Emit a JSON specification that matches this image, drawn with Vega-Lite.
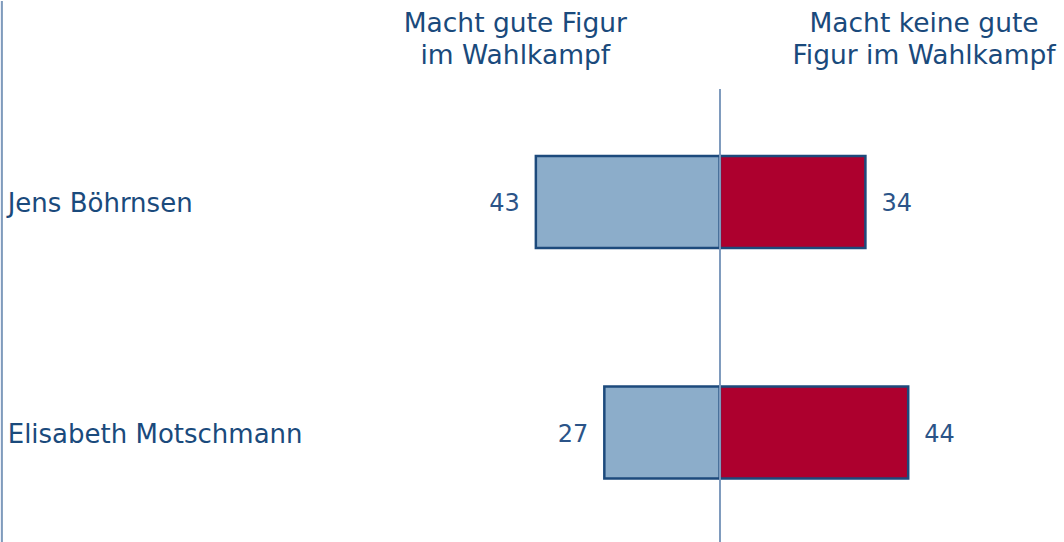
{
  "$schema": "https://vega.github.io/schema/vega-lite/v6.json",
  "width": 1064,
  "height": 542,
  "autosize": {"type": "fit", "contains": "padding"},
  "padding": 0,
  "background": "white",
  "config": {"view": {"stroke": null}, "font": "DejaVu Sans"},
  "data": {
    "values": [
      {"name": "Jens Böhrnsen", "group": "gut", "value": -43, "label": "43"},
      {"name": "Jens Böhrnsen", "group": "schlecht", "value": 34, "label": "34"},
      {"name": "Elisabeth Motschmann", "group": "gut", "value": -27, "label": "27"},
      {"name": "Elisabeth Motschmann", "group": "schlecht", "value": 44, "label": "44"}
    ]
  },
  "layer": [
    {
      "mark": {"type": "bar", "stroke": "#1d4a7c", "strokeWidth": 2.5},
      "encoding": {
        "y": {
          "field": "name", "type": "nominal", "sort": null,
          "scale": {"domain": ["Jens Böhrnsen", "Elisabeth Motschmann"], "range": [155, 477.5], "paddingInner": 0.601, "paddingOuter": 0},
          "axis": null
        },
        "x": {"field": "value", "type": "quantitative", "scale": {"domain": [-168.2, 80.4], "nice": false, "zero": false}, "axis": null},
        "x2": {"datum": 0},
        "color": {"field": "group", "type": "nominal", "scale": {"domain": ["gut", "schlecht"], "range": ["#8cadca", "#ad002e"]}, "legend": null}
      }
    },
    {
      "transform": [{"filter": "datum.group == 'gut'"}],
      "mark": {"type": "text", "align": "right", "baseline": "middle", "dx": -16, "dy": 2, "fontSize": 24, "color": "#2b5488"},
      "encoding": {
        "y": {"field": "name", "type": "nominal", "sort": null},
        "x": {"field": "value", "type": "quantitative"},
        "text": {"field": "label"}
      }
    },
    {
      "transform": [{"filter": "datum.group == 'schlecht'"}],
      "mark": {"type": "text", "align": "left", "baseline": "middle", "dx": 16, "dy": 2, "fontSize": 24, "color": "#2b5488"},
      "encoding": {
        "y": {"field": "name", "type": "nominal", "sort": null},
        "x": {"field": "value", "type": "quantitative"},
        "text": {"field": "label"}
      }
    },
    {
      "transform": [{"filter": "datum.group == 'gut'"}],
      "mark": {"type": "text", "align": "left", "baseline": "middle", "dy": 2, "fontSize": 26, "color": "#1a4a7c"},
      "encoding": {
        "y": {"field": "name", "type": "nominal", "sort": null},
        "x": {"datum": -166.4},
        "text": {"field": "name"}
      }
    },
    {
      "mark": {"type": "rule", "color": "#7f9bbd", "strokeWidth": 1.5},
      "encoding": {
        "x": {"datum": -167.8},
        "y": {"value": 0},
        "y2": {"value": 542}
      }
    },
    {
      "mark": {"type": "rule", "color": "#7f9bbd", "strokeWidth": 1.5},
      "encoding": {
        "x": {"datum": 0},
        "y": {"value": 88},
        "y2": {"value": 542}
      }
    },
    {
      "data": {"values": [
        {"header": ["Macht gute Figur", "im Wahlkampf"], "pos": -47.8},
        {"header": ["Macht keine gute", "Figur im Wahlkampf"], "pos": 47.7}
      ]},
      "mark": {"type": "text", "align": "center", "baseline": "middle", "fontSize": 26.5, "lineHeight": 32, "color": "#1a4a7c"},
      "encoding": {
        "x": {"field": "pos", "type": "quantitative"},
        "y": {"value": 23},
        "text": {"field": "header"}
      }
    }
  ]
}
